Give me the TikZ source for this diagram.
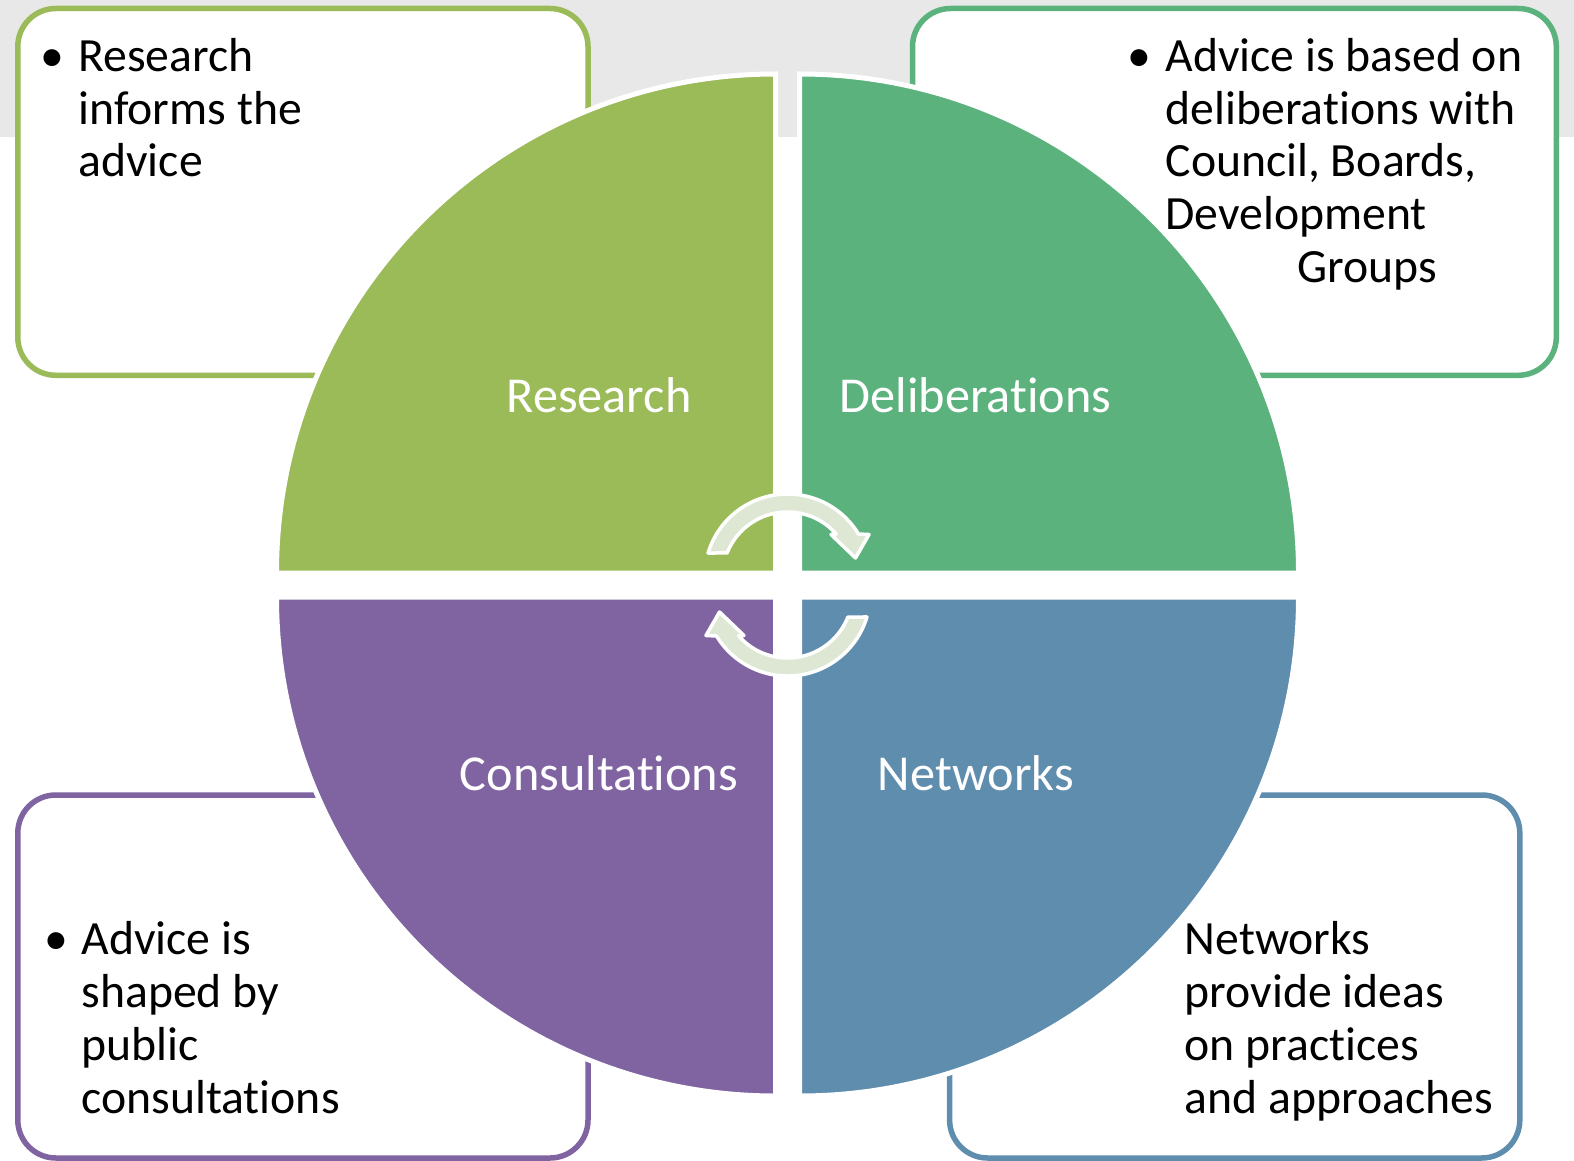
\documentclass[tikz,border=0pt]{standalone}
\usepackage{fontspec}
\setmainfont{Carlito}[Ligatures=NoCommon]
\usetikzlibrary{calc}
\definecolor{cgreen}{HTML}{9BBB59}
\definecolor{cteal}{HTML}{5BB27D}
\definecolor{cpurple}{HTML}{8064A2}
\definecolor{cblue}{HTML}{5F8DAE}
\definecolor{cband}{HTML}{E8E8E8}
\definecolor{carrow}{HTML}{DEE7D3}
\begin{document}
\begin{tikzpicture}[x=1pt,y=-1pt,
  infobox/.style={line width=5.5pt, rounded corners=38pt, fill=white},
  quad/.style={draw=white, line width=5pt},
  quadlabel/.style={text=white, font=\fontsize{50.3}{60}\selectfont, inner sep=0pt, anchor=base},
  boxtext/.style={font=\fontsize{47.7}{52.8}\selectfont, inner sep=0pt, anchor=base west},
  bulletmark/.style={font=\fontsize{47.7}{52.8}\selectfont, inner sep=0pt, anchor=base},
  cyclearrow/.style={fill=carrow, draw=white, line width=3.5pt, line join=round}
]
\useasboundingbox (0,0) rectangle (1574,1161);
\fill[white] (0,0) rectangle (1574,1161);
\fill[cband] (0,0) rectangle (1574,137);

% info boxes
\draw[infobox, draw=cgreen]  (17.8,8.5) rectangle (588,375.3);
\draw[infobox, draw=cteal]   (912.5,8.5) rectangle (1556.3,375.3);
\draw[infobox, draw=cpurple] (17.8,795) rectangle (588,1158);
\draw[infobox, draw=cblue]   (949.6,795) rectangle (1519.8,1158);

% quadrants
\draw[quad, fill=cgreen]  (775.5,573) -- ++(-499,0) arc[start angle=180,end angle=270,radius=499] -- cycle;
\draw[quad, fill=cteal]   (799.5,573) -- ++(0,-499) arc[start angle=270,end angle=360,radius=499] -- cycle;
\draw[quad, fill=cblue]   (799.5,597) -- ++(499,0) arc[start angle=0,end angle=90,radius=499] -- cycle;
\draw[quad, fill=cpurple] (775.5,597) -- ++(0,499) arc[start angle=90,end angle=180,radius=499] -- cycle;

% quadrant labels
\node[quadlabel] (lres) at (599,412.6) {Research};
\node[quadlabel] (ldel) at (975.7,412.6) {Deliberations};
\node[quadlabel] (lcon) at (599,790) {Consultations};
\node[quadlabel] (lnet) at (975.7,790) {Networks};

% cycle arrows
\path[cyclearrow] (787.5,577) ++(196.8:83) arc[start angle=196.8,end angle=328.8,radius=83]
  -- (869,534.5) -- (855.5,558) -- (831,534.5)
  -- ($(787.5,577)+(318.6:65)$) arc[start angle=318.6,end angle=201.7,radius=65] -- cycle;
\begin{scope}[rotate around={180:(787.5,585)}]
\path[cyclearrow] (787.5,577) ++(196.8:83) arc[start angle=196.8,end angle=328.8,radius=83]
  -- (869,534.5) -- (855.5,558) -- (831,534.5)
  -- ($(787.5,577)+(318.6:65)$) arc[start angle=318.6,end angle=201.7,radius=65] -- cycle;
\end{scope}

% box texts
\node[bulletmark] (bres) at (52.2,71.3) {•};
\node[boxtext] (tres) at (78.3,71.3) {\begin{tabular}[t]{@{}l@{}}Research\\informs the\\advice\end{tabular}};
\node[bulletmark] (bdel) at (1139.3,71.3) {•};
\node[boxtext] (tdel) at (1165.4,71.3) {\begin{tabular}[t]{@{}l@{}}Advice is based on\\deliberations with\\Council, Boards,\\Development\\\hspace{131.6pt}Groups\end{tabular}};
\node[bulletmark] (bcon) at (56.2,954.6) {•};
\node[boxtext] (tcon) at (81.3,954.6) {\begin{tabular}[t]{@{}l@{}}Advice is\\shaped by\\public\\consultations\end{tabular}};
\node[boxtext] (tnet) at (1184.5,954.6) {\begin{tabular}[t]{@{}l@{}}Networks\\provide ideas\\on practices\\and approaches\end{tabular}};
\end{tikzpicture}
\end{document}
